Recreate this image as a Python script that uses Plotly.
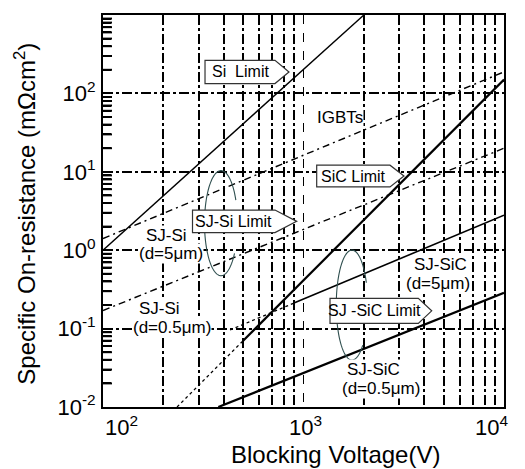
import numpy as np
import plotly.graph_objects as go

# ---- data: each curve is a straight line on log-log axes, given by its end points ----
# blocking voltage (V) / specific on-resistance (mOhm cm^2)
si_limit_v = [100, 2000]
si_limit_r = [1.0, 1000.0]

sic_limit_v = [500, 10000]
sic_limit_r = [0.07, 150.0]
sic_limit_ext_v = [234, 500]
sic_limit_ext_r = [0.01, 0.07]

sj_si_5um_v = [100, 10000]
sj_si_5um_r = [1.41, 188.0]

sj_si_05um_v = [100, 10000]
sj_si_05um_r = [0.17, 20.0]

sj_sic_5um_v = [890, 10000]
sj_sic_5um_r = [0.21, 2.8]
sj_sic_5um_ext_v = [430, 890]
sj_sic_5um_ext_r = [0.096, 0.21]

sj_sic_05um_v = [376, 10000]
sj_sic_05um_r = [0.01, 0.286]

x_tick_vals = [1e2, 1e3, 1e4]
x_tick_text = ["10<sup>2</sup>", "10<sup>3</sup>", "10<sup>4</sup>"]
y_tick_vals = [1e-2, 1e-1, 1e0, 1e1, 1e2, 1e3]
y_tick_text = ["10<sup>-2</sup>", "10<sup>-1</sup>", "10<sup>0</sup>",
               "10<sup>1</sup>", "10<sup>2</sup>", "10<sup>3</sup>"]

x_minor = [m * 10 ** e for e in (2, 3) for m in range(2, 10)]
y_minor = [m * 10 ** e for e in range(-2, 3) for m in range(2, 10)]

X_RANGE = [2, 4]
Y_RANGE = [-2, 3]

FONT = "Liberation Sans, Arial, Helvetica, sans-serif"
GRID_DASH = "10px,3px,3px,3px"
CURVE_DASHDOT = "7px,4px,2px,4px"

fig = go.Figure()


def add_line(v, r, width, dash="solid"):
    fig.add_trace(go.Scatter(x=v, y=r, mode="lines",
                             line=dict(color="black", width=width, dash=dash),
                             showlegend=False, hoverinfo="skip"))


add_line(si_limit_v, si_limit_r, 1.4)
add_line(sj_si_5um_v, sj_si_5um_r, 1.4, CURVE_DASHDOT)
add_line(sj_si_05um_v, sj_si_05um_r, 1.4, CURVE_DASHDOT)
add_line(sic_limit_ext_v, sic_limit_ext_r, 1.3, "dot")
add_line(sic_limit_v, sic_limit_r, 2.2)
add_line(sj_sic_5um_ext_v, sj_sic_5um_ext_r, 1.3, "dot")
add_line(sj_sic_5um_v, sj_sic_5um_r, 1.6)
add_line(sj_sic_05um_v, sj_sic_05um_r, 2.2)

shapes = []

# short inside ticks on the left axis at the minor decade positions
tick_len = 9 / 401
for r in y_minor:
    yp = (np.log10(r) - Y_RANGE[0]) / (Y_RANGE[1] - Y_RANGE[0])
    shapes.append(dict(type="line", xref="paper", yref="paper",
                       x0=0, x1=tick_len, y0=yp, y1=yp,
                       line=dict(color="black", width=2), layer="above"))


def ellipse_arc(cx, cy, a, b, gap_from, gap_to):
    # open ellipse in paper units, leaving a gap on its right-hand side
    t = np.radians(np.linspace(gap_to, 360 + gap_from, 120))
    xs = cx + a * np.cos(t)
    ys = cy + b * np.sin(t)
    path = "M " + " L ".join(f"{x:.5f},{y:.5f}" for x, y in zip(xs, ys))
    return dict(type="path", path=path, xref="paper", yref="paper",
                line=dict(color="#2f4f4f", width=1.1), layer="above")


shapes.append(ellipse_arc(0.2943, 0.469, 0.0411, 0.1340, -35, 26))
shapes.append(ellipse_arc(0.6209, 0.260, 0.0392, 0.1402, -47, 24))


def callout(x0, x1, xt, y0, y1):
    ym = (y0 + y1) / 2
    path = (f"M {x0},{y0} L {x1},{y0} L {xt},{ym} L {x1},{y1} L {x0},{y1} Z")
    return dict(type="path", path=path, xref="paper", yref="paper",
                fillcolor="white", line=dict(color="#333333", width=1.2),
                layer="above")


callouts = [
    ("Si  Limit", 0.2544, 0.4289, 0.4638, 0.8251, 0.8845),
    ("SiC Limit", 0.5329, 0.7157, 0.7506, 0.5616, 0.6169),
    ("SJ-Si Limit", 0.2232, 0.4289, 0.4830, 0.4448, 0.5024),
    ("SJ -SiC Limit", 0.5661, 0.7863, 0.8197, 0.2134, 0.2771),
]

annotations = []
for text, x0, x1, xt, y0, y1 in callouts:
    shapes.append(callout(x0, x1, xt, y0, y1))
    annotations.append(dict(text=text, x=(x0 + x1) / 2, y=(y0 + y1) / 2,
                            xref="paper", yref="paper", showarrow=False,
                            xanchor="center", yanchor="middle",
                            font=dict(family=FONT, size=16, color="black")))

labels = [
    ("IGBTs", 0.5898, 0.7379),
    ("SJ-Si", 0.1576, 0.4363),
    ("(d=5μm)", 0.1696, 0.3904),
    ("SJ-Si", 0.1420, 0.2518),
    ("(d=0.5μm)", 0.1713, 0.2027),
    ("SJ-SiC", 0.8404, 0.3627),
    ("(d=5μm)", 0.8362, 0.3154),
    ("SJ-SiC", 0.6741, 0.0963),
    ("(d=0.5μm)", 0.6928, 0.0477),
]
for text, x, y in labels:
    annotations.append(dict(text=text, x=x, y=y, xref="paper", yref="paper",
                            showarrow=False, bgcolor="white", borderpad=0,
                            xanchor="center", yanchor="middle",
                            font=dict(family=FONT, size=17, color="black")))

# x tick labels, kept inside the frame at both ends
anchors = ["left", "center", "right"]
shifts = [0, 2, 6]
for v, t, anc, sh in zip(x_tick_vals, x_tick_text, anchors, shifts):
    annotations.append(dict(text=t, x=np.log10(v), y=0, xref="x", yref="paper",
                            xanchor=anc, yanchor="top", yshift=-3, xshift=sh,
                            showarrow=False,
                            font=dict(family=FONT, size=22, color="black")))

# axis titles
annotations.append(dict(text="Blocking Voltage(V)", x=0.5786, y=-0.121,
                        xref="paper", yref="paper", showarrow=False,
                        xanchor="center", yanchor="middle",
                        font=dict(family=FONT, size=24, color="black")))
annotations.append(dict(text="Specific On-resistance (mΩcm<sup>2</sup>)",
                        x=-0.1945, y=0.4932, xref="paper", yref="paper",
                        showarrow=False, textangle=-90,
                        xanchor="center", yanchor="middle",
                        font=dict(family=FONT, size=24, color="black")))

fig.update_layout(
    width=525, height=469,
    margin=dict(l=103, r=21, t=15, b=62),
    paper_bgcolor="white", plot_bgcolor="white",
    font=dict(family=FONT, color="black"),
    shapes=shapes, annotations=annotations,
    xaxis=dict(
        type="log", range=X_RANGE,
        showline=True, mirror=True, linecolor="black", linewidth=2,
        tickvals=x_tick_vals, showticklabels=False, ticks="",
        showgrid=True, gridcolor="black", gridwidth=1.2, griddash="dash",
        zeroline=False,
        minor=dict(tickvals=x_minor, ticks="", showgrid=True,
                   gridcolor="black", gridwidth=2.4, griddash=GRID_DASH),
    ),
    yaxis=dict(
        type="log", range=Y_RANGE,
        showline=True, mirror=True, linecolor="black", linewidth=2,
        tickvals=y_tick_vals, ticktext=y_tick_text,
        ticks="", ticklabelstandoff=1,
        tickfont=dict(family=FONT, size=22, color="black"),
        showgrid=True, gridcolor="black", gridwidth=2.4, griddash=GRID_DASH,
        zeroline=False,
        minor=dict(tickmode="array", tickvals=y_minor, ticks="inside",
                   ticklen=8, tickwidth=1.5, tickcolor="black",
                   showgrid=False),
    ),
)

fig.write_html("out.html")
